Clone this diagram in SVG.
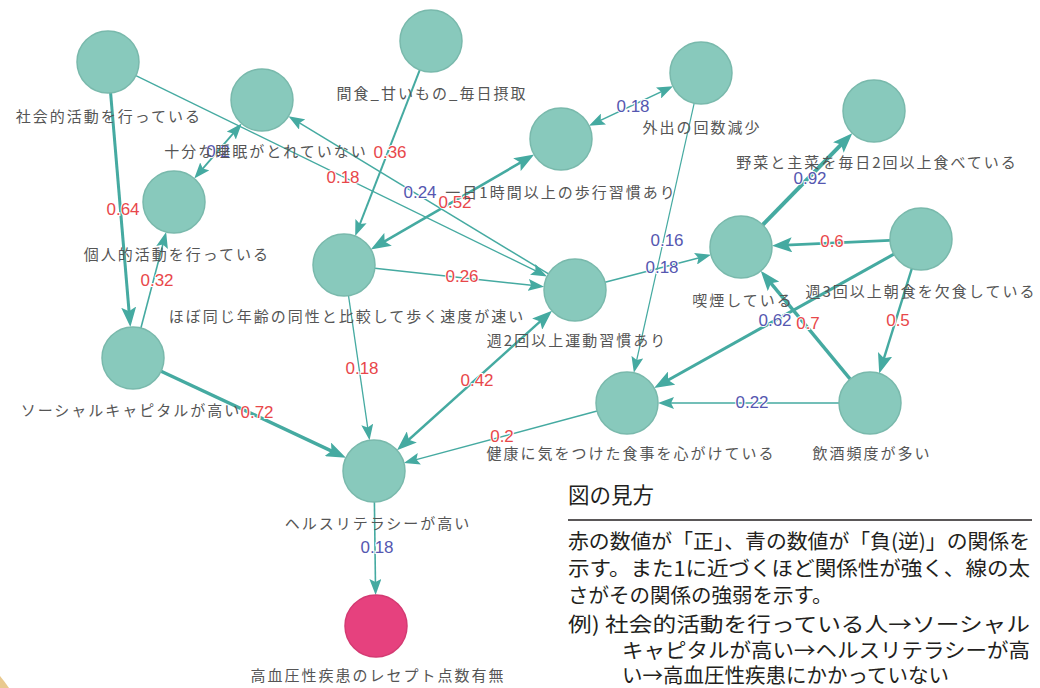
<svg xmlns="http://www.w3.org/2000/svg" width="1040" height="688" viewBox="0 0 1040 688">
<defs>
<style>
.node{fill:#88c9bc;stroke:#79b9ac;stroke-width:1.5}
.target{fill:#e6417e;stroke:#d43a72;stroke-width:1.5}
.lbl{font-family:"Noto Sans CJK JP","Noto Sans",sans-serif;font-size:15px;fill:#555;letter-spacing:2px;text-anchor:middle}
.e{stroke:#45aaa1;fill:none}
.s{marker-end:url(#ah)}
.sb{marker-start:url(#ah);marker-end:url(#ah)}
.l{marker-end:url(#ahL)}
.lb{marker-start:url(#ahL);marker-end:url(#ahL)}
.w{font-family:"Liberation Sans",Arial,sans-serif;font-size:17px;text-anchor:middle;stroke:#fff;stroke-width:2;paint-order:stroke}
.r{fill:#e8474a}
.b{fill:#5557b0}
.lg{font-family:"Noto Sans CJK JP","Noto Sans",sans-serif;font-size:20.5px;fill:#231f20}
</style>
<marker id="ah" markerUnits="userSpaceOnUse" markerWidth="16" markerHeight="12" viewBox="0 0 16 12" refX="8" refY="6" orient="auto-start-reverse"><path d="M0,0 L16,6 L0,12 L3,6 z" fill="#45aaa1"/></marker>
<marker id="ahL" markerUnits="userSpaceOnUse" markerWidth="20" markerHeight="15" viewBox="0 0 20 15" refX="12" refY="7.5" orient="auto-start-reverse"><path d="M0,0 L20,7.5 L0,15 L4,7.5 z" fill="#45aaa1"/></marker>
</defs>
<rect width="1040" height="688" fill="#fff"/>
<path d="M0,676 Q5,682 9,688 L0,688 Z" fill="#e9c98f"/>

<g id="connectors">
<line class="e l" stroke-width="3" x1="110.6" y1="92.9" x2="129.7" y2="319.1"/>
<line class="e s" stroke-width="1.3" x1="135.9" y1="75.6" x2="539.9" y2="272.9"/>
<line class="e sb" stroke-width="1.8" x1="236.5" y1="129.6" x2="199.5" y2="172.4"/>
<line class="e s" stroke-width="2" x1="419.8" y1="69.9" x2="358.1" y2="228.6"/>
<line class="e lb" stroke-width="2.6" x1="377.7" y1="245.4" x2="527.3" y2="158.6"/>
<line class="e sb" stroke-width="1.6" x1="596.2" y1="122.4" x2="665.8" y2="89.6"/>
<line class="e s" stroke-width="1.2" x1="694.2" y1="103.2" x2="635.6" y2="365"/>
<line class="e s" stroke-width="1.5" x1="605" y1="282.2" x2="703.3" y2="256.8"/>
<line class="e l" stroke-width="4" x1="762.7" y1="224.8" x2="846.7" y2="138.9"/>
<line class="e l" stroke-width="2.8" x1="890" y1="240.4" x2="780" y2="245.3"/>
<line class="e l" stroke-width="3" x1="893.9" y1="254.1" x2="661.1" y2="384"/>
<line class="e l" stroke-width="2.4" x1="911.8" y1="268.6" x2="881.6" y2="365.8"/>
<line class="e l" stroke-width="3.4" x1="850.2" y1="379.1" x2="765.9" y2="277.1"/>
<line class="e s" stroke-width="1.6" x1="839" y1="403" x2="666" y2="403"/>
<line class="e s" stroke-width="1.4" x1="597.1" y1="411" x2="411.6" y2="460.9"/>
<line class="e lb" stroke-width="2.4" x1="402.9" y1="445" x2="546.1" y2="316.1"/>
<line class="e s" stroke-width="1.6" x1="374.8" y1="268.3" x2="536.2" y2="285.8"/>
<line class="e s" stroke-width="1.3" x1="348.5" y1="295.7" x2="368.4" y2="432.4"/>
<line class="e l" stroke-width="3.4" x1="161.1" y1="371.2" x2="338.7" y2="454.4"/>
<line class="e s" stroke-width="1.6" x1="140.9" y1="328" x2="164.1" y2="239.7"/>
<line class="e s" stroke-width="1.6" x1="374.4" y1="502" x2="375.5" y2="587"/>
<line class="e s" stroke-width="1.5" x1="548.5" y1="273.9" x2="295.3" y2="120.3"/>

<text class="w r" x="123" y="215">0.64</text>
<text class="w r" x="343" y="183">0.18</text>
<text class="w b" x="218" y="157">0.2</text>
<text class="w r" x="390" y="158">0.36</text>
<text class="w b" x="420" y="198">0.24</text>
<text class="w r" x="455" y="208">0.52</text>
<text class="w b" x="633" y="112">0.18</text>
<text class="w b" x="667" y="246">0.16</text>
<text class="w b" x="662" y="273">0.18</text>
<text class="w b" x="810" y="184">0.92</text>
<text class="w r" x="832" y="247">0.6</text>
<text class="w b" x="775" y="326">0.62</text>
<text class="w r" x="808" y="329">0.7</text>
<text class="w r" x="898" y="326">0.5</text>
<text class="w b" x="752" y="408">0.22</text>
<text class="w r" x="502" y="442">0.2</text>
<text class="w r" x="477" y="386">0.42</text>
<text class="w r" x="462" y="282">0.26</text>
<text class="w r" x="362" y="374">0.18</text>
<text class="w r" x="257" y="418">0.72</text>
<text class="w r" x="157" y="286">0.32</text>
<text class="w b" x="377" y="553">0.18</text>
</g>

<g id="n1"><circle class="node" cx="108" cy="62" r="31"/><text class="lbl" x="109" y="122">社会的活動を行っている</text></g>
<g id="n2"><circle class="node" cx="262" cy="100" r="31"/><text class="lbl" x="266" y="157">十分な睡眠がとれていない</text></g>
<g id="n3"><circle class="node" cx="431" cy="41" r="31"/><text class="lbl" x="432" y="99">間食_甘いもの_毎日摂取</text></g>
<g id="n4"><circle class="node" cx="701" cy="73" r="31"/><text class="lbl" x="702" y="133">外出の回数減少</text></g>
<g id="n5"><circle class="node" cx="561" cy="139" r="31"/><text class="lbl" x="561" y="198">一日1時間以上の歩行習慣あり</text></g>
<g id="n6"><circle class="node" cx="874" cy="111" r="31"/><text class="lbl" x="877" y="168">野菜と主菜を毎日2回以上食べている</text></g>
<g id="n7"><circle class="node" cx="921" cy="239" r="31"/><text class="lbl" x="921" y="297">週3回以上朝食を欠食している</text></g>
<g id="n8"><circle class="node" cx="741" cy="247" r="31"/><text class="lbl" x="743" y="306">喫煙している</text></g>
<g id="n9"><circle class="node" cx="174" cy="202" r="31"/><text class="lbl" x="177" y="260">個人的活動を行っている</text></g>
<g id="n10"><circle class="node" cx="344" cy="265" r="31"/><text class="lbl" x="347" y="322">ほぼ同じ年齢の同性と比較して歩く速度が速い</text></g>
<g id="n11"><circle class="node" cx="575" cy="290" r="31"/><text class="lbl" x="577" y="346">週2回以上運動習慣あり</text></g>
<g id="n12"><circle class="node" cx="133" cy="358" r="31"/><text class="lbl" x="131" y="416">ソーシャルキャピタルが高い</text></g>
<g id="n13"><circle class="node" cx="627" cy="403" r="31"/><text class="lbl" x="631" y="459">健康に気をつけた食事を心がけている</text></g>
<g id="n14"><circle class="node" cx="870" cy="403" r="31"/><text class="lbl" x="872" y="459">飲酒頻度が多い</text></g>
<g id="n15"><circle class="node" cx="374" cy="471" r="31"/><text class="lbl" x="378" y="529">ヘルスリテラシーが高い</text></g>
<g id="n16"><circle class="target" cx="376" cy="626" r="31"/><text class="lbl" x="378" y="681">高血圧性疾患のレセプト点数有無</text></g>

<g id="legend">
<text class="lg" x="568" y="503" style="font-size:21.5px">図の見方</text>
<line x1="568" y1="520" x2="1032" y2="520" stroke="#231f20" stroke-width="1.5"/>
<text class="lg" x="568" y="549" textLength="462" lengthAdjust="spacingAndGlyphs">赤の数値が「正」、青の数値が「負(逆)」の関係を</text>
<text class="lg" x="568" y="576" textLength="462" lengthAdjust="spacingAndGlyphs">示す。また1に近づくほど関係性が強く、線の太</text>
<text class="lg" x="568" y="603">さがその関係の強弱を示す。</text>
<text class="lg" x="568" y="632" textLength="462" lengthAdjust="spacingAndGlyphs">例) 社会的活動を行っている人→ソーシャル</text>
<text class="lg" x="622" y="658" textLength="408" lengthAdjust="spacingAndGlyphs">キャピタルが高い→ヘルスリテラシーが高</text>
<text class="lg" x="622" y="683">い→高血圧性疾患にかかっていない</text>
</g>
</svg>
